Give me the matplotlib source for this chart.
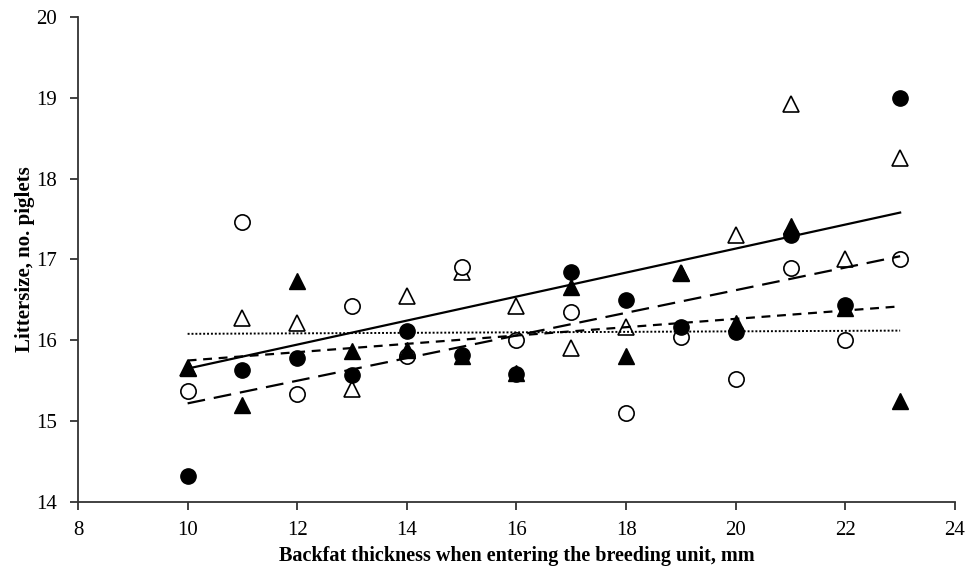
import numpy as np
import matplotlib
matplotlib.use("Agg")
from matplotlib import pyplot as plt

plt.rcParams['font.family'] = ['Liberation Serif', 'DejaVu Serif']

# backfat thickness classes, mm
backfat = [10, 11, 12, 13, 14, 15, 16, 17, 18, 19, 20, 21, 22, 23]

# littersize per group
filled_circle = [14.32, 15.63, 15.78, 15.57, 16.11, 15.82, 15.58, 16.85, 16.50, 16.17, 16.10, 17.30, 16.44, 19.00]
open_circle = [15.37, 17.46, 15.33, 16.42, 15.81, 16.91, 16.00, 16.35, 15.10, 16.04, 15.52, 16.90, 16.00, 17.00]
filled_tri = [15.66, 15.20, 16.73, 15.87, 15.88, 15.80, 15.60, 16.66, 15.80, 16.83, 16.22, 17.42, 16.40, 15.25]
open_tri = [15.66, 16.28, 16.22, 15.40, 16.55, 16.85, 16.43, 15.90, 16.16, 16.83, 17.30, 18.92, 17.00, 18.25]

# trend lines: value at x=10 and x=23
line_x = [10, 23]
solid_line = [15.65, 17.58]
long_dash = [15.22, 17.04]
short_dash = [15.75, 16.42]
dotted = [16.08, 16.12]

fig = plt.figure(figsize=(9.69, 5.68), dpi=100)
ax = fig.add_axes([0.0805, 0.1162, 0.905, 0.854])

ms = 11
ax.plot(backfat, open_tri, linestyle='none', marker='^', markersize=ms, markerfacecolor='white', markeredgecolor='black', markeredgewidth=1.2)
ax.plot(backfat, open_circle, linestyle='none', marker='o', markersize=ms, markerfacecolor='white', markeredgecolor='black', markeredgewidth=1.2)
ax.plot(backfat, filled_tri, linestyle='none', marker='^', markersize=ms, color='black')
ax.plot(backfat, filled_circle, linestyle='none', marker='o', markersize=ms, color='black')

ax.plot(line_x, solid_line, color='black', linewidth=1.6, linestyle='-')
ax.plot(line_x, long_dash, color='black', linewidth=1.6, linestyle=(0, (8, 4)))
ax.plot(line_x, short_dash, color='black', linewidth=1.6, linestyle=(0, (4, 3)))
ax.plot(line_x, dotted, color='black', linewidth=1.4, linestyle=(0, (1, 1)))

ax.set_xlim(8, 24)
ax.set_ylim(14, 20)
ax.set_xticks(np.arange(8, 25, 2))
ax.set_yticks(np.arange(14, 21, 1))
ax.spines['top'].set_visible(False)
ax.spines['right'].set_visible(False)
ax.spines['left'].set_linewidth(1.3)
ax.spines['bottom'].set_linewidth(1.3)
ax.spines['left'].set_color('#333333')
ax.spines['bottom'].set_color('#333333')
ax.tick_params(direction='out', length=6, width=1.3, labelsize=15, colors='#333333', labelcolor='black')
ax.tick_params(axis='x', pad=8)
ax.tick_params(axis='y', pad=9)

ax.set_xlabel('Backfat thickness when entering the breeding unit, mm', fontsize=14.5, fontweight='bold', labelpad=4)
ax.set_ylabel('Littersize, no. piglets', fontsize=15, fontweight='bold', labelpad=1)

fig.savefig('out.png', dpi=100)
